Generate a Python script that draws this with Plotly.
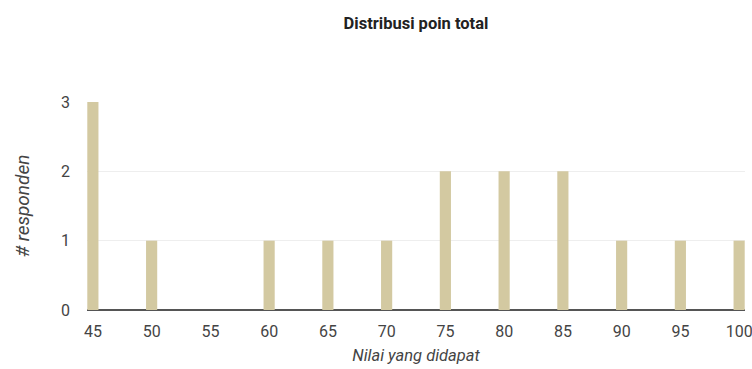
import plotly.graph_objects as go

# Score distribution
scores = [45, 50, 55, 60, 65, 70, 75, 80, 85, 90, 95, 100]
respondents = [3, 1, 0, 1, 1, 1, 2, 2, 2, 1, 1, 1]
x_ticks = [45, 50, 55, 60, 65, 70, 75, 80, 85, 90, 95, 100]
y_ticks = [0, 1, 2, 3]

BAR = "#d3c9a1"
TEXT = "#444444"
FONT = "Roboto, Arial, sans-serif"

fig = go.Figure(
    go.Bar(
        x=scores,
        y=respondents,
        width=0.95,
        marker=dict(color=BAR, line=dict(width=0)),
        hoverinfo="x+y",
    )
)

fig.update_layout(
    width=752,
    height=369,
    margin=dict(l=87, r=7, t=102, b=59),
    paper_bgcolor="white",
    plot_bgcolor="white",
    showlegend=False,
    font=dict(family=FONT, color=TEXT, size=16),
    title=dict(
        text="<b>Distribusi poin total</b>",
        x=(87 + 745) / 2 / 752,
        xanchor="center",
        y=1 - 23 / 369,
        yanchor="middle",
        font=dict(size=16.5, color="#222222", family=FONT),
    ),
    xaxis=dict(
        range=[44.5, 100.5],
        tickmode="array",
        tickvals=x_ticks,
        ticktext=[str(v) for v in x_ticks],
        showgrid=False,
        zeroline=False,
        showline=False,
        ticks="",
        ticklen=0,
        automargin=False,
        ticklabeloverflow="allow",
        ticklabelstandoff=10,
        tickfont=dict(size=16, color=TEXT),
        title=dict(
            text="<i>Nilai yang didapat</i>",
            font=dict(size=16.5, color=TEXT),
            standoff=9,
        ),
    ),
    yaxis=dict(
        range=[0, 3],
        tickmode="array",
        tickvals=y_ticks,
        ticktext=[str(v) for v in y_ticks],
        showgrid=True,
        gridcolor="#eeeeee",
        gridwidth=1,
        zeroline=True,
        zerolinecolor="#555555",
        zerolinewidth=2,
        showline=False,
        ticks="",
        automargin=False,
        ticklabelstandoff=16,
        tickfont=dict(size=16, color=TEXT),
        title=dict(
            text="<i># responden</i>",
            font=dict(size=19, color=TEXT),
            standoff=26,
        ),
    ),
)

fig.write_html("out.html")
